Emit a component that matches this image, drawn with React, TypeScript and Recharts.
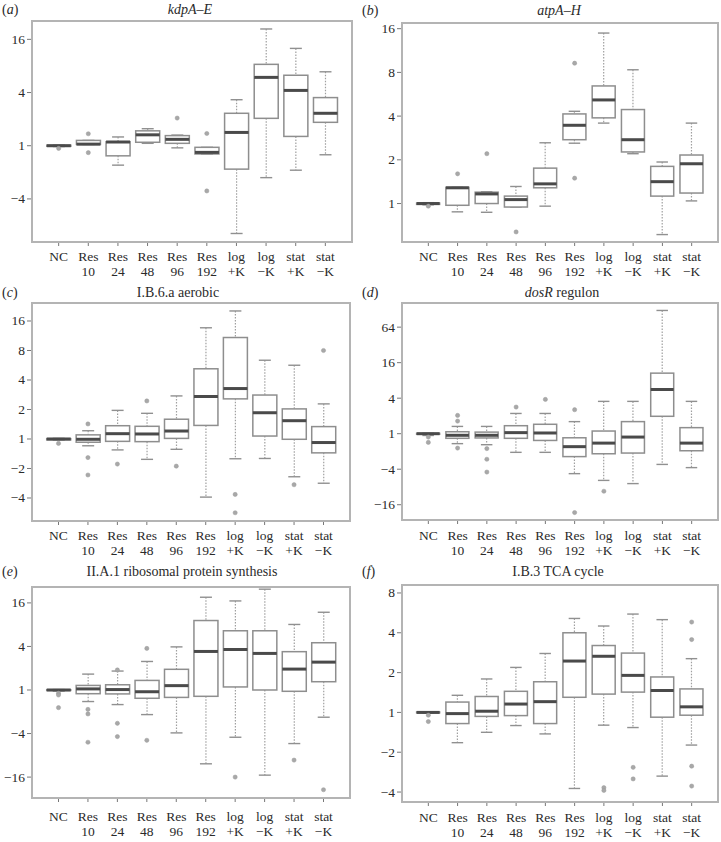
import React from 'react';
import { ComposedChart, Bar, Scatter, XAxis, YAxis } from 'recharts';

const categories = ['NC', 'Res 10', 'Res 24', 'Res 48', 'Res 96', 'Res 192', 'log +K', 'log −K', 'stat +K', 'stat −K'];

// values in log2 units (axis labels show fold change)
// Panel (a) kdpA–E
const aLo = [-0.03, 0.05, -0.73, 0.09, -0.08, -0.31, -3.3, -1.2, -0.92, -0.34];
const aQ1 = [-0.02, 0.05, -0.38, 0.13, 0.09, -0.31, -0.88, 1.03, 0.35, 0.88];
const aMed = [0, 0.06, 0.14, 0.41, 0.24, -0.25, 0.5, 2.57, 2.08, 1.22];
const aQ3 = [0.02, 0.2, 0.15, 0.56, 0.38, -0.06, 1.22, 3.06, 2.65, 1.81];
const aHi = [0.03, 0.2, 0.33, 0.64, 0.4, -0.06, 1.73, 4.39, 3.66, 2.78];
const aOut = [[0, -0.1], [1, 0.45], [1, -0.26], [4, 1.04], [5, 0.46], [5, -1.7]];
const aTicks = [4, 2, 0, -2];

// Panel (b) atpA–H
const bLo = [-0.03, -0.19, -0.2, -0.08, -0.06, 1.38, 1.84, 1.14, -0.71, 0.06];
const bQ1 = [-0.02, -0.04, 0, -0.08, 0.36, 1.46, 1.96, 1.18, 0.17, 0.24];
const bMed = [0, 0.36, 0.22, 0.09, 0.45, 1.79, 2.37, 1.46, 0.5, 0.91];
const bQ3 = [0.01, 0.37, 0.26, 0.17, 0.81, 2.05, 2.69, 2.15, 0.85, 1.11];
const bHi = [0.02, 0.37, 0.27, 0.39, 1.39, 2.11, 3.9, 3.06, 0.95, 1.84];
const bOut = [[0, -0.06], [1, 0.68], [2, 1.14], [3, -0.65], [5, 3.21], [5, 0.58]];
const bTicks = [4, 3, 2, 1, 0];

// Panel (c) I.B.6.a aerobic
const cLo = [-0.04, -0.23, -0.37, -0.69, -0.35, -1.97, -0.67, -0.66, -1.28, -1.5];
const cQ1 = [-0.03, -0.11, -0.08, -0.09, 0.02, 0.46, 1.36, 0.1, -0.01, -0.47];
const cMed = [0, -0.01, 0.18, 0.17, 0.27, 1.44, 1.71, 0.89, 0.62, -0.12];
const cQ3 = [0.01, 0.14, 0.45, 0.43, 0.67, 2.38, 3.44, 1.49, 1.02, 0.42];
const cHi = [0.02, 0.28, 0.97, 0.87, 1.46, 3.77, 4.34, 2.67, 2.5, 1.19];
const cOut = [[0, -0.15], [1, 0.51], [1, -0.63], [1, -1.22], [2, -0.85], [3, 1.29], [4, -0.92], [6, -1.88], [6, -2.5], [8, -1.55], [9, 3.0]];
const cTicks = [4, 3, 2, 1, 0, -1, -2];

// Panel (d) dosR regulon
const dLo = [-0.1, -0.56, -0.62, -1.05, -1.05, -2.25, -2.63, -2.81, -1.73, -1.91];
const dQ1 = [-0.03, -0.26, -0.24, -0.26, -0.38, -1.29, -1.13, -1.09, 0.98, -0.96];
const dMed = [0, -0.09, -0.09, 0.06, 0.04, -0.73, -0.53, -0.19, 2.49, -0.53];
const dQ3 = [0.02, 0.11, 0.09, 0.45, 0.53, -0.23, 0.15, 0.68, 3.41, 0.34];
const dHi = [0.03, 0.41, 0.41, 1.14, 1.14, 0.68, 1.82, 1.82, 6.94, 1.82];
const dOut = [[0, -0.19], [0, -0.49], [1, 1.03], [1, 0.71], [1, -0.81], [2, -0.84], [2, -1.44], [2, -2.16], [3, 1.5], [4, 1.93], [5, 1.35], [5, -4.44], [6, -3.24]];
const dTicks = [6, 4, 2, 0, -2, -4];

// Panel (e) II.A.1 ribosomal protein synthesis
const eLo = [-0.05, -0.53, -0.67, -1.13, -1.97, -3.39, -2.17, -3.91, -2.46, -1.25];
const eQ1 = [-0.02, -0.17, -0.18, -0.38, -0.34, -0.29, 0.14, 0, -0.06, 0.38];
const eMed = [0, 0.05, 0.02, -0.08, 0.2, 1.77, 1.86, 1.68, 0.96, 1.28];
const eQ3 = [0.01, 0.21, 0.24, 0.44, 0.95, 3.19, 2.72, 2.72, 1.76, 2.17];
const eHi = [0.02, 0.73, 0.87, 1.31, 1.98, 4.26, 4.09, 4.63, 3.01, 3.57];
const eOut = [[0, -0.15], [0, -0.23], [0, -0.81], [1, -0.89], [1, -1.1], [1, -2.4], [2, 0.92], [2, -1.53], [2, -2.14], [3, 1.91], [3, -2.31], [6, -4.0], [8, -3.22], [9, -4.58]];
const eTicks = [4, 2, 0, -2, -4];

// Panel (f) I.B.3 TCA cycle
const fLo = [-0.02, -0.76, -0.5, -0.33, -0.54, -1.91, -0.32, -0.38, -1.6, -0.82];
const fQ1 = [-0.01, -0.28, -0.1, -0.08, -0.28, 0.38, 0.46, 0.51, -0.12, -0.07];
const fMed = [0, -0.03, 0.03, 0.21, 0.27, 1.29, 1.41, 0.93, 0.55, 0.14];
const fQ3 = [0.01, 0.26, 0.4, 0.53, 0.77, 2.0, 1.68, 1.49, 0.89, 0.59];
const fHi = [0.01, 0.43, 0.84, 1.13, 1.48, 2.36, 2.17, 2.47, 2.33, 1.35];
const fOut = [[0, -0.07], [0, -0.23], [6, -1.89], [6, -1.96], [7, -1.38], [7, -1.67], [9, 2.27], [9, 1.83], [9, -1.35], [9, -1.85]];
const fTicks = [3, 2, 1, 0, -1, -2];

const FONT = '"Liberation Serif", "DejaVu Serif", serif';

const fmtTick = (v: number) => (v >= 0 ? String(Math.pow(2, v)) : '−' + Math.pow(2, -v));

const BoxShape = (props: any) => {
  const { x, y, width, height, payload } = props;
  if (x == null || y == null || !payload) return <g />;
  const top = Math.min(y, y + height);
  const bot = Math.max(y, y + height);
  const { lo, hi, q1, q3, med } = payload;
  const span = hi - lo;
  const py = (v: number) => (span > 0 ? top + ((hi - v) / span) * (bot - top) : top);
  const cx = x + width / 2;
  const capW = width / 2;
  const yq3 = py(q3);
  const yq1 = py(q1);
  const ym = py(med);
  return (
    <g>
      <line x1={cx} x2={cx} y1={top} y2={yq3} stroke="#a0a0a0" strokeWidth={1.2} strokeDasharray="1.5 1.5" />
      <line x1={cx} x2={cx} y1={yq1} y2={bot} stroke="#a0a0a0" strokeWidth={1.2} strokeDasharray="1.5 1.5" />
      <line x1={cx - capW / 2} x2={cx + capW / 2} y1={top} y2={top} stroke="#909090" strokeWidth={1.4} />
      <line x1={cx - capW / 2} x2={cx + capW / 2} y1={bot} y2={bot} stroke="#909090" strokeWidth={1.4} />
      <rect x={x} y={yq3} width={width} height={Math.max(yq1 - yq3, 0.5)} fill="#ffffff" stroke="#8e8e8e" strokeWidth={1.5} />
      <line x1={x} x2={x + width} y1={ym} y2={ym} stroke="#4a4a4a" strokeWidth={3} />
    </g>
  );
};

const OutShape = (props: any) => {
  const { cx, cy } = props;
  if (!Number.isFinite(cx) || !Number.isFinite(cy)) return <g />;
  return <circle cx={cx} cy={cy} r={2.1} fill="#a8a8a8" stroke="#9a9a9a" strokeWidth={0.5} />;
};

const CatTick = (props: any) => {
  const { x, y, payload, firstDy, lineGap } = props;
  const parts = String(payload.value).split(' ');
  return (
    <text x={x} y={y} textAnchor="middle" fontSize={13.5} fill="#2a2a2a" style={{ fontFamily: FONT }}>
      {parts.map((p, i) => (
        <tspan key={i} x={x} dy={i === 0 ? firstDy : lineGap}>
          {p}
        </tspan>
      ))}
    </text>
  );
};

const NumTick = (props: any) => {
  const { x, y, payload } = props;
  return (
    <text x={x} y={y} dy={4.5} textAnchor="end" fontSize={13.5} fill="#2a2a2a" style={{ fontFamily: FONT }}>
      {fmtTick(payload.value)}
    </text>
  );
};

type Panel = {
  letter: string;
  title: React.ReactNode;
  titleX: number;
  titleY: number;
  labelX: number;
  labelY: number;
  panelLeft: number;
  panelTop: number;
  panelWidth: number;
  plotLeft: number;
  plotTop: number;
  plotRight: number;
  plotBottom: number;
  domain: [number, number];
  ticks: number[];
  lo: number[];
  q1: number[];
  med: number[];
  q3: number[];
  hi: number[];
  out: number[][];
  firstDy: number;
  lineGap: number;
};

const panels: Panel[] = [
  {
    letter: 'a', title: <i>kdpA–E</i>, titleX: 190, titleY: 10, labelX: 2, labelY: 10,
    panelLeft: 0, panelTop: 0, panelWidth: 360, plotLeft: 32, plotTop: 21, plotRight: 352, plotBottom: 242,
    domain: [-3.62, 4.69], ticks: aTicks, lo: aLo, q1: aQ1, med: aMed, q3: aQ3, hi: aHi, out: aOut, firstDy: 12.5, lineGap: 15.5,
  },
  {
    letter: 'b', title: <i>atpA–H</i>, titleX: 559, titleY: 11, labelX: 362, labelY: 11,
    panelLeft: 360, panelTop: 0, panelWidth: 361, plotLeft: 402, plotTop: 23, plotRight: 718, plotBottom: 242,
    domain: [-0.88, 4.13], ticks: bTicks, lo: bLo, q1: bQ1, med: bMed, q3: bQ3, hi: bHi, out: bOut, firstDy: 12.5, lineGap: 15.5,
  },
  {
    letter: 'c', title: <span>I.B.6.a aerobic</span>, titleX: 178, titleY: 293, labelX: 2, labelY: 293,
    panelLeft: 0, panelTop: 280, panelWidth: 360, plotLeft: 32, plotTop: 303, plotRight: 350, plotBottom: 521,
    domain: [-2.78, 4.61], ticks: cTicks, lo: cLo, q1: cQ1, med: cMed, q3: cQ3, hi: cHi, out: cOut, firstDy: 12.5, lineGap: 15.5,
  },
  {
    letter: 'd', title: <span><i>dosR</i> regulon</span>, titleX: 562, titleY: 293, labelX: 362, labelY: 293,
    panelLeft: 360, panelTop: 280, panelWidth: 361, plotLeft: 402, plotTop: 303, plotRight: 718, plotBottom: 520,
    domain: [-4.86, 7.36], ticks: dTicks, lo: dLo, q1: dQ1, med: dMed, q3: dQ3, hi: dHi, out: dOut, firstDy: 13.5, lineGap: 15.5,
  },
  {
    letter: 'e', title: <span>II.A.1 ribosomal protein synthesis</span>, titleX: 182, titleY: 572, labelX: 2, labelY: 572,
    panelLeft: 0, panelTop: 560, panelWidth: 360, plotLeft: 32, plotTop: 587, plotRight: 350, plotBottom: 798,
    domain: [-4.96, 4.73], ticks: eTicks, lo: eLo, q1: eQ1, med: eMed, q3: eQ3, hi: eHi, out: eOut, firstDy: 16.5, lineGap: 15.5,
  },
  {
    letter: 'f', title: <span>I.B.3 TCA cycle</span>, titleX: 558, titleY: 572, labelX: 362, labelY: 572,
    panelLeft: 360, panelTop: 560, panelWidth: 361, plotLeft: 402, plotTop: 585, plotRight: 718, plotBottom: 802,
    domain: [-2.25, 3.2], ticks: fTicks, lo: fLo, q1: fQ1, med: fMed, q3: fQ3, hi: fHi, out: fOut, firstDy: 13.5, lineGap: 15,
  },
];

const X_AXIS_H = 48;

const PanelChart = ({ p }: { p: Panel }) => {
  const boxes = categories.map((name, i) => ({
    name,
    lo: p.lo[i],
    q1: p.q1[i],
    med: p.med[i],
    q3: p.q3[i],
    hi: p.hi[i],
    range: [p.lo[i], p.hi[i]],
  }));
  const outs = p.out.map(([i, v]) => ({ name: categories[i], v }));
  const yWidth = p.plotLeft - p.panelLeft;
  const mTop = p.plotTop - p.panelTop;
  const mRight = p.panelLeft + p.panelWidth - p.plotRight;
  const height = p.plotBottom - p.panelTop + X_AXIS_H;
  const plotW = p.plotRight - p.plotLeft;
  const pad = (0.4 * plotW) / 10.8;
  return (
    <>
      <div style={{ position: 'absolute', left: p.panelLeft, top: p.panelTop }}>
        <ComposedChart
          width={p.panelWidth}
          height={height}
          data={boxes}
          margin={{ top: mTop, right: mRight, left: 0, bottom: 0 }}
          barCategoryGap="10%"
        >
          <XAxis
            dataKey="name"
            type="category"
            allowDuplicatedCategory={false}
            interval={0}
            padding={{ left: pad, right: pad }}
            height={X_AXIS_H}
            axisLine={false}
            tickSize={4}
            tickLine={{ stroke: '#777', strokeWidth: 1 }}
            tick={<CatTick firstDy={p.firstDy} lineGap={p.lineGap} />}
          />
          <YAxis
            type="number"
            domain={p.domain}
            ticks={p.ticks}
            allowDataOverflow
            interval={0}
            width={yWidth}
            axisLine={false}
            tickSize={5}
            tickLine={{ stroke: '#777', strokeWidth: 1 }}
            tickFormatter={fmtTick}
            tick={<NumTick />}
          />
          <Bar data={boxes} dataKey="range" shape={BoxShape} isAnimationActive={false} />
          <Scatter data={outs} dataKey="v" shape={OutShape} isAnimationActive={false} />
        </ComposedChart>
      </div>
      <div
        style={{
          position: 'absolute',
          left: p.plotLeft - 1,
          top: p.plotTop - 1,
          width: plotW + 2,
          height: p.plotBottom - p.plotTop + 2,
          boxSizing: 'border-box',
          border: '2px solid #b4b4b4',
          pointerEvents: 'none',
        }}
      />
      <div
        style={{
          position: 'absolute',
          left: p.titleX,
          top: p.titleY,
          transform: 'translate(-50%, -50%)',
          fontFamily: FONT,
          fontSize: 14,
          color: '#2a2a2a',
          whiteSpace: 'nowrap',
          lineHeight: 1,
        }}
      >
        {p.title}
      </div>
      <div
        style={{
          position: 'absolute',
          left: p.labelX,
          top: p.labelY,
          transform: 'translateY(-50%)',
          fontFamily: FONT,
          fontSize: 14,
          color: '#2a2a2a',
          whiteSpace: 'nowrap',
          lineHeight: 1,
        }}
      >
        (<i>{p.letter}</i>)
      </div>
    </>
  );
};

export default function App() {
  return (
    <div style={{ position: 'absolute', left: 0, top: 0, width: 721, height: 842, background: '#fff', overflow: 'hidden' }}>
      {panels.map((p) => (
        <PanelChart key={p.letter} p={p} />
      ))}
    </div>
  );
}
